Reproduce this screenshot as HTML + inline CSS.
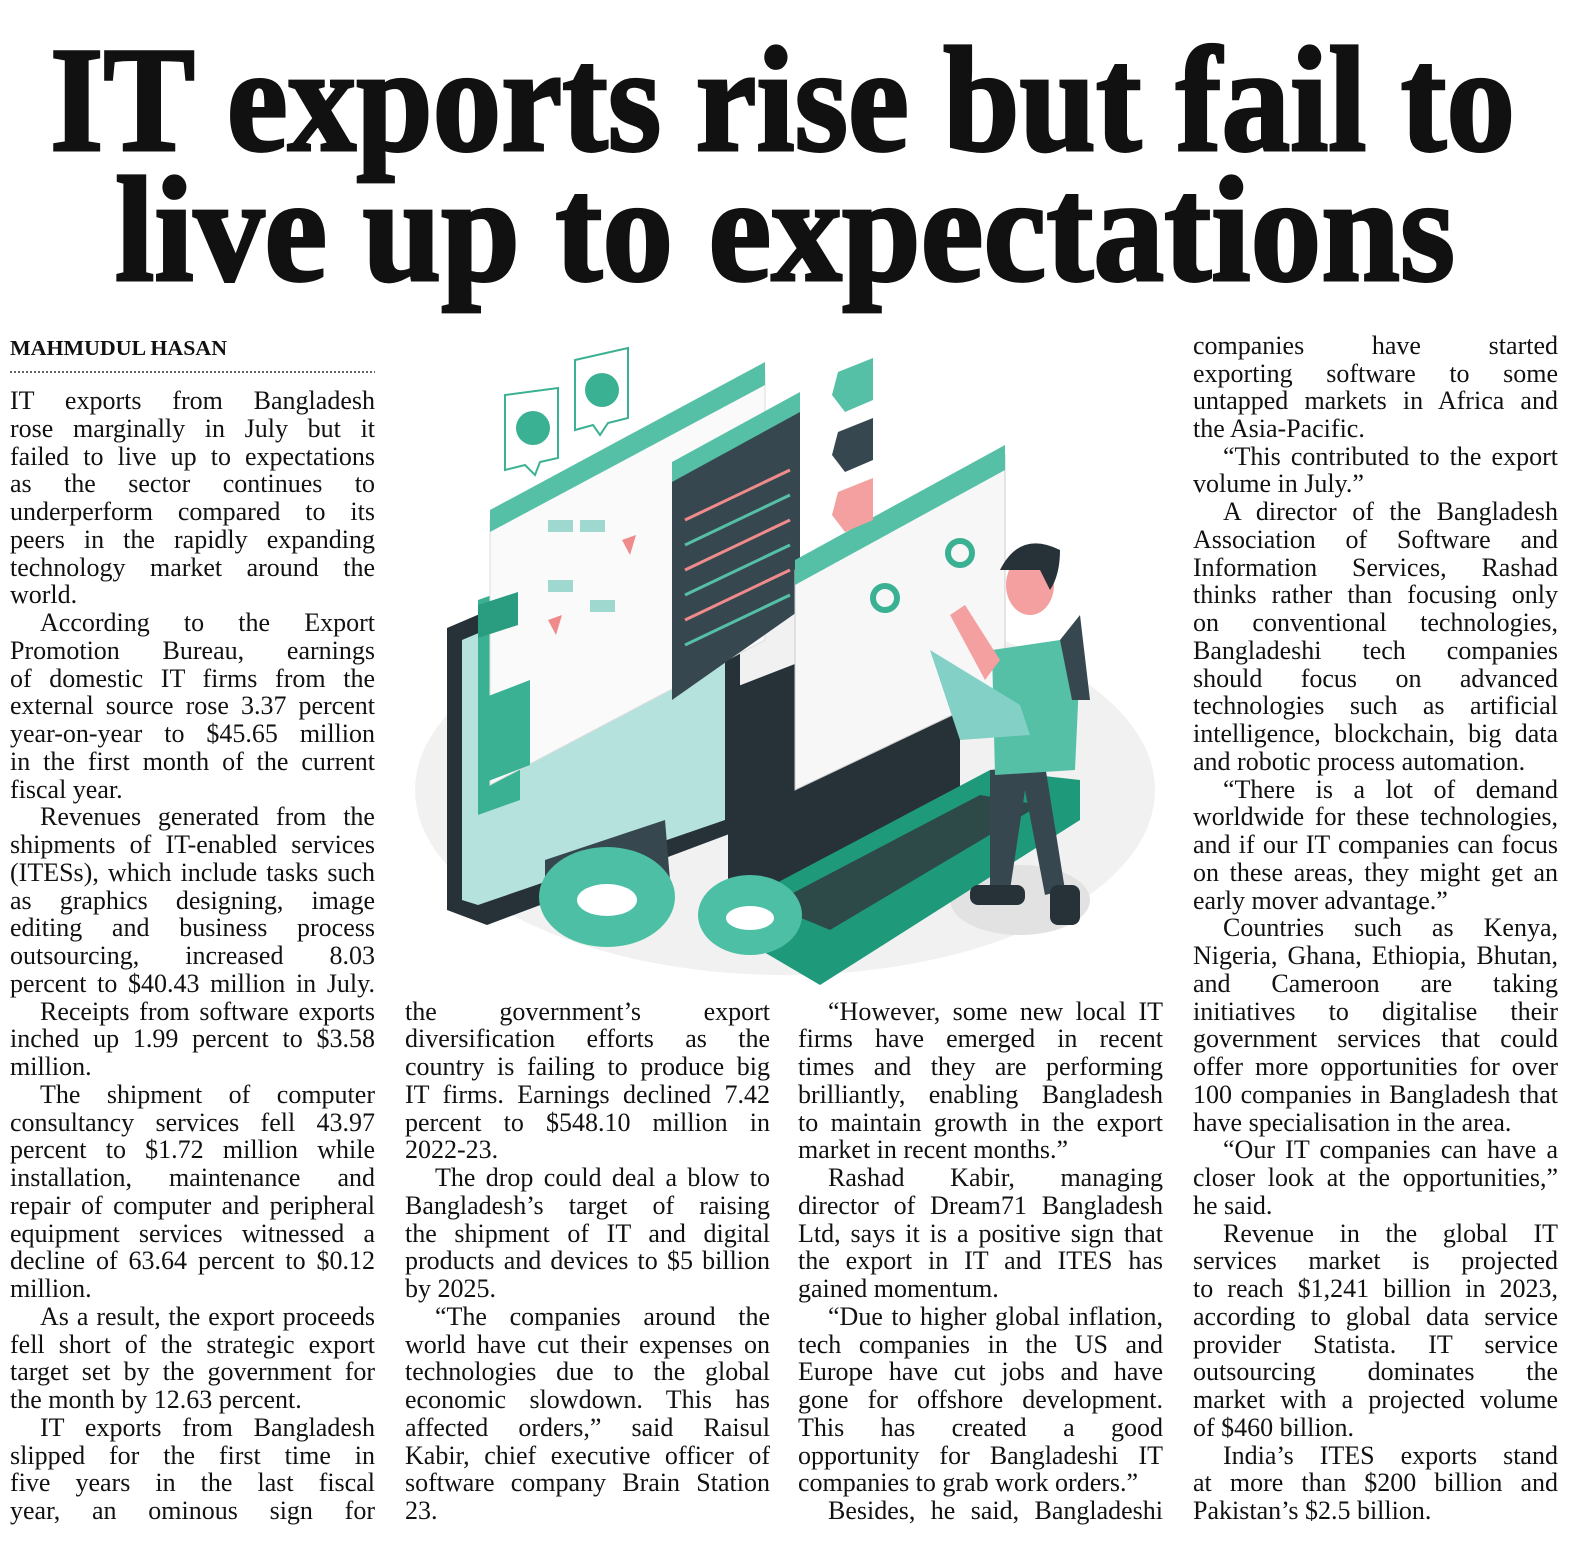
<!DOCTYPE html>
<html><head><meta charset="utf-8"><style>
html,body{margin:0;padding:0;background:#fff;width:1571px;height:1541px;overflow:hidden}
svg text{font-family:"Liberation Serif",serif;fill:#111}
.b{font-size:26px}
</style></head><body>
<svg id="s" width="1571" height="1541" viewBox="0 0 1571 1541" xmlns="http://www.w3.org/2000/svg">
<text x="50" y="150" font-size="150" font-weight="900" textLength="1465" lengthAdjust="spacingAndGlyphs" stroke="#111" stroke-width="3">IT exports rise but fail to</text>
<text x="115" y="280" font-size="150" font-weight="900" textLength="1340" lengthAdjust="spacingAndGlyphs" stroke="#111" stroke-width="3">live up to expectations</text>

<text x="10" y="355" font-size="21" font-weight="bold" textLength="217" lengthAdjust="spacingAndGlyphs">MAHMUDUL HASAN</text>
<line x1="10" y1="372" x2="375" y2="372" stroke="#333" stroke-width="1.5" stroke-dasharray="2 2"/>

<g>
<ellipse cx="785" cy="790" rx="370" ry="185" fill="#f1f1f1"/>
<ellipse cx="1020" cy="900" rx="70" ry="35" fill="#e2e2e2"/>
<polygon points="447,628 700,520 740,540 740,830 487,925 447,910" fill="#263238"/>
<polygon points="462,640 700,540 725,550 725,820 478,905 462,900" fill="#b6e2de"/>
<polygon points="545,860 665,820 670,880 560,910 545,900" fill="#37474f"/>
<polygon points="478,600 520,585 520,800 478,815" fill="#3bb193"/>
<polygon points="490,520 765,372 765,640 490,785" fill="#fafafa" stroke="#ddd"/>
<polygon points="490,510 765,362 765,385 490,532" fill="#55c0a6"/>
<rect x="548" y="520" width="25" height="12" fill="#9fd8cf"/><rect x="580" y="520" width="25" height="12" fill="#9fd8cf"/>
<rect x="548" y="580" width="25" height="12" fill="#9fd8cf"/><rect x="590" y="600" width="25" height="12" fill="#9fd8cf"/>
<polygon points="622,540 636,535 630,555" fill="#ef8b8b"/><polygon points="548,620 562,615 556,635" fill="#ef8b8b"/>
<polygon points="672,470 800,400 800,610 672,700" fill="#37474f"/>
<polygon points="672,462 800,392 800,412 672,482" fill="#55c0a6"/>
<g stroke-width="3"><line x1="685" y1="520" x2="790" y2="470" stroke="#ef8b8b"/><line x1="685" y1="545" x2="790" y2="495" stroke="#55c0a6"/><line x1="685" y1="570" x2="790" y2="520" stroke="#ef8b8b"/><line x1="685" y1="595" x2="790" y2="545" stroke="#55c0a6"/><line x1="685" y1="620" x2="790" y2="570" stroke="#ef8b8b"/><line x1="685" y1="645" x2="790" y2="595" stroke="#55c0a6"/></g>
<polygon points="478,605 518,592 518,625 478,638" fill="#2a9c80"/>
<polygon points="478,700 530,680 530,765 478,785" fill="#3bb193"/>
<polygon points="728,690 960,600 960,820 728,900" fill="#263238"/>
<polygon points="735,905 990,770 1080,780 1080,820 820,985 735,935" fill="#1e9a7b"/>
<polygon points="770,905 980,795 1040,805 830,930" fill="#2d4a49"/>
<polygon points="795,570 1005,455 1005,690 795,790" fill="#f7f7f7" stroke="#ccc"/>
<polygon points="795,560 1005,445 1005,470 795,585" fill="#55c0a6"/>
<circle cx="885" cy="598" r="12" fill="none" stroke="#3bb193" stroke-width="6"/>
<circle cx="960" cy="553" r="12" fill="none" stroke="#3bb193" stroke-width="6"/>
<polygon points="505,395 558,388 558,458 540,462 535,475 525,465 505,470" fill="#fff" stroke="#3bb193" stroke-width="2"/>
<circle cx="533" cy="428" r="17" fill="#3bb193"/>
<polygon points="575,360 628,348 628,418 608,423 600,435 593,425 575,430" fill="#fff" stroke="#3bb193" stroke-width="2"/>
<circle cx="602" cy="390" r="17" fill="#3bb193"/>
<polygon points="838,372 873,358 873,400 845,412 832,395" fill="#55c0a6"/>
<polygon points="838,432 873,418 873,460 845,472 832,455" fill="#37474f"/>
<polygon points="838,492 873,478 873,520 845,532 832,515" fill="#f4a0a0"/>
<ellipse cx="607" cy="897" rx="68" ry="50" fill="#4dbfa5"/><ellipse cx="607" cy="900" rx="30" ry="16" fill="#fff"/>
<ellipse cx="750" cy="915" rx="52" ry="40" fill="#4dbfa5"/><ellipse cx="750" cy="918" rx="24" ry="12" fill="#fff"/>
<polygon points="990,770 1045,765 1065,890 1045,895 1025,790 1010,890 990,890" fill="#37474f"/>
<rect x="970" y="885" width="55" height="20" rx="8" fill="#263238"/><rect x="1050" y="885" width="30" height="40" rx="8" fill="#263238"/>
<polygon points="992,650 1060,640 1080,660 1075,770 995,775" fill="#55c0a6"/>
<polygon points="1060,640 1080,615 1090,700 1072,700" fill="#37474f"/>
<polygon points="950,615 965,605 1000,660 985,680" fill="#f4a0a0"/>
<polygon points="930,650 1020,705 1030,735 960,740" fill="#82d0c6"/>
<ellipse cx="1030" cy="585" rx="24" ry="30" fill="#f4a0a0"/>
<path d="M1000 570 Q1020 530 1060 550 Q1060 575 1050 590 L1040 570 L1010 570Z" fill="#263238"/>
</g>

<g class="b">
<text x="10" y="409" data-w="365">IT exports from Bangladesh</text>
<text x="10" y="437" data-w="365">rose marginally in July but it</text>
<text x="10" y="465" data-w="365">failed to live up to expectations</text>
<text x="10" y="492" data-w="365">as the sector continues to</text>
<text x="10" y="520" data-w="365">underperform compared to its</text>
<text x="10" y="548" data-w="365">peers in the rapidly expanding</text>
<text x="10" y="576" data-w="365">technology market around the</text>
<text x="10" y="603">world.</text>
<text x="40" y="631" data-w="335">According to the Export</text>
<text x="10" y="659" data-w="365">Promotion Bureau, earnings</text>
<text x="10" y="687" data-w="365">of domestic IT firms from the</text>
<text x="10" y="714" data-w="365">external source rose 3.37 percent</text>
<text x="10" y="742" data-w="365">year-on-year to $45.65 million</text>
<text x="10" y="770" data-w="365">in the first month of the current</text>
<text x="10" y="798">fiscal year.</text>
<text x="40" y="825" data-w="335">Revenues generated from the</text>
<text x="10" y="853" data-w="365">shipments of IT-enabled services</text>
<text x="10" y="881" data-w="365">(ITESs), which include tasks such</text>
<text x="10" y="909" data-w="365">as graphics designing, image</text>
<text x="10" y="936" data-w="365">editing and business process</text>
<text x="10" y="964" data-w="365">outsourcing, increased 8.03</text>
<text x="10" y="992" data-w="365">percent to $40.43 million in July.</text>
<text x="40" y="1020" data-w="335">Receipts from software exports</text>
<text x="10" y="1047" data-w="365">inched up 1.99 percent to $3.58</text>
<text x="10" y="1075">million.</text>
<text x="40" y="1103" data-w="335">The shipment of computer</text>
<text x="10" y="1131" data-w="365">consultancy services fell 43.97</text>
<text x="10" y="1158" data-w="365">percent to $1.72 million while</text>
<text x="10" y="1186" data-w="365">installation, maintenance and</text>
<text x="10" y="1214" data-w="365">repair of computer and peripheral</text>
<text x="10" y="1242" data-w="365">equipment services witnessed a</text>
<text x="10" y="1269" data-w="365">decline of 63.64 percent to $0.12</text>
<text x="10" y="1297">million.</text>
<text x="40" y="1325" data-w="335">As a result, the export proceeds</text>
<text x="10" y="1353" data-w="365">fell short of the strategic export</text>
<text x="10" y="1380" data-w="365">target set by the government for</text>
<text x="10" y="1408">the month by 12.63 percent.</text>
<text x="40" y="1436" data-w="335">IT exports from Bangladesh</text>
<text x="10" y="1464" data-w="365">slipped for the first time in</text>
<text x="10" y="1491" data-w="365">five years in the last fiscal</text>
<text x="10" y="1519" data-w="365">year, an ominous sign for</text>

<text x="405" y="1020" data-w="365">the government’s export</text>
<text x="405" y="1047" data-w="365">diversification efforts as the</text>
<text x="405" y="1075" data-w="365">country is failing to produce big</text>
<text x="405" y="1103" data-w="365">IT firms. Earnings declined 7.42</text>
<text x="405" y="1131" data-w="365">percent to $548.10 million in</text>
<text x="405" y="1158">2022-23.</text>
<text x="435" y="1186" data-w="335">The drop could deal a blow to</text>
<text x="405" y="1214" data-w="365">Bangladesh’s target of raising</text>
<text x="405" y="1242" data-w="365">the shipment of IT and digital</text>
<text x="405" y="1269" data-w="365">products and devices to $5 billion</text>
<text x="405" y="1297">by 2025.</text>
<text x="435" y="1325" data-w="335">“The companies around the</text>
<text x="405" y="1353" data-w="365">world have cut their expenses on</text>
<text x="405" y="1380" data-w="365">technologies due to the global</text>
<text x="405" y="1408" data-w="365">economic slowdown. This has</text>
<text x="405" y="1436" data-w="365">affected orders,” said Raisul</text>
<text x="405" y="1464" data-w="365">Kabir, chief executive officer of</text>
<text x="405" y="1491" data-w="365">software company Brain Station</text>
<text x="405" y="1519">23.</text>

<text x="828" y="1020" data-w="335">“However, some new local IT</text>
<text x="798" y="1047" data-w="365">firms have emerged in recent</text>
<text x="798" y="1075" data-w="365">times and they are performing</text>
<text x="798" y="1103" data-w="365">brilliantly, enabling Bangladesh</text>
<text x="798" y="1131" data-w="365">to maintain growth in the export</text>
<text x="798" y="1158">market in recent months.”</text>
<text x="828" y="1186" data-w="335">Rashad Kabir, managing</text>
<text x="798" y="1214" data-w="365">director of Dream71 Bangladesh</text>
<text x="798" y="1242" data-w="365">Ltd, says it is a positive sign that</text>
<text x="798" y="1269" data-w="365">the export in IT and ITES has</text>
<text x="798" y="1297">gained momentum.</text>
<text x="828" y="1325" data-w="335">“Due to higher global inflation,</text>
<text x="798" y="1353" data-w="365">tech companies in the US and</text>
<text x="798" y="1380" data-w="365">Europe have cut jobs and have</text>
<text x="798" y="1408" data-w="365">gone for offshore development.</text>
<text x="798" y="1436" data-w="365">This has created a good</text>
<text x="798" y="1464" data-w="365">opportunity for Bangladeshi IT</text>
<text x="798" y="1491">companies to grab work orders.”</text>
<text x="828" y="1519" data-w="335">Besides, he said, Bangladeshi</text>

<text x="1193" y="354" data-w="365">companies have started</text>
<text x="1193" y="382" data-w="365">exporting software to some</text>
<text x="1193" y="409" data-w="365">untapped markets in Africa and</text>
<text x="1193" y="437">the Asia-Pacific.</text>
<text x="1223" y="465" data-w="335">“This contributed to the export</text>
<text x="1193" y="492">volume in July.”</text>
<text x="1223" y="520" data-w="335">A director of the Bangladesh</text>
<text x="1193" y="548" data-w="365">Association of Software and</text>
<text x="1193" y="576" data-w="365">Information Services, Rashad</text>
<text x="1193" y="603" data-w="365">thinks rather than focusing only</text>
<text x="1193" y="631" data-w="365">on conventional technologies,</text>
<text x="1193" y="659" data-w="365">Bangladeshi tech companies</text>
<text x="1193" y="687" data-w="365">should focus on advanced</text>
<text x="1193" y="714" data-w="365">technologies such as artificial</text>
<text x="1193" y="742" data-w="365">intelligence, blockchain, big data</text>
<text x="1193" y="770">and robotic process automation.</text>
<text x="1223" y="798" data-w="335">“There is a lot of demand</text>
<text x="1193" y="825" data-w="365">worldwide for these technologies,</text>
<text x="1193" y="853" data-w="365">and if our IT companies can focus</text>
<text x="1193" y="881" data-w="365">on these areas, they might get an</text>
<text x="1193" y="909">early mover advantage.”</text>
<text x="1223" y="936" data-w="335">Countries such as Kenya,</text>
<text x="1193" y="964" data-w="365">Nigeria, Ghana, Ethiopia, Bhutan,</text>
<text x="1193" y="992" data-w="365">and Cameroon are taking</text>
<text x="1193" y="1020" data-w="365">initiatives to digitalise their</text>
<text x="1193" y="1047" data-w="365">government services that could</text>
<text x="1193" y="1075" data-w="365">offer more opportunities for over</text>
<text x="1193" y="1103" data-w="365">100 companies in Bangladesh that</text>
<text x="1193" y="1131">have specialisation in the area.</text>
<text x="1223" y="1158" data-w="335">“Our IT companies can have a</text>
<text x="1193" y="1186" data-w="365">closer look at the opportunities,”</text>
<text x="1193" y="1214">he said.</text>
<text x="1223" y="1242" data-w="335">Revenue in the global IT</text>
<text x="1193" y="1269" data-w="365">services market is projected</text>
<text x="1193" y="1297" data-w="365">to reach $1,241 billion in 2023,</text>
<text x="1193" y="1325" data-w="365">according to global data service</text>
<text x="1193" y="1353" data-w="365">provider Statista. IT service</text>
<text x="1193" y="1380" data-w="365">outsourcing dominates the</text>
<text x="1193" y="1408" data-w="365">market with a projected volume</text>
<text x="1193" y="1436">of $460 billion.</text>
<text x="1223" y="1464" data-w="335">India’s ITES exports stand</text>
<text x="1193" y="1491" data-w="365">at more than $200 billion and</text>
<text x="1193" y="1519">Pakistan’s $2.5 billion.</text>
</g>
</svg>
<script>
document.querySelectorAll('text[data-w]').forEach(function(t){
  var w=+t.getAttribute('data-w');
  var n=t.getComputedTextLength();
  var sp=(t.textContent.match(/ /g)||[]).length;
  if(sp>0){
    var ws=(w-n)/sp;
    if(ws<-3){ t.setAttribute('textLength',w); t.setAttribute('lengthAdjust','spacingAndGlyphs'); }
    else t.setAttribute('word-spacing',ws.toFixed(2));
  }
});
</script>
</body></html>
